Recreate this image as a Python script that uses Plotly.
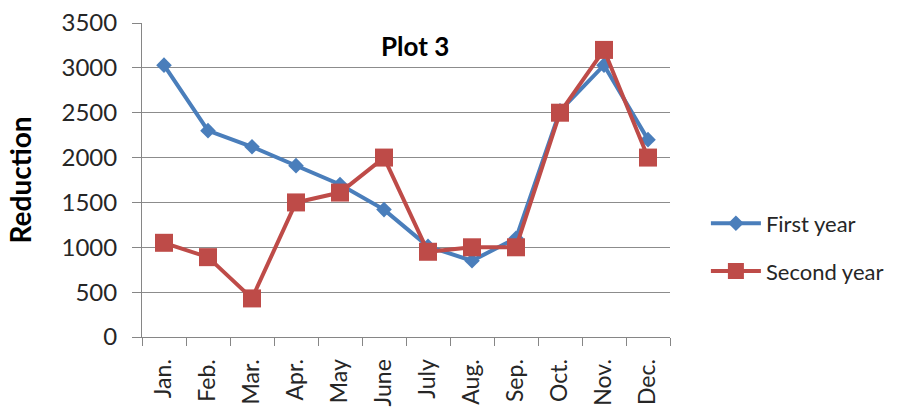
import plotly.graph_objects as go

months = ["Jan.", "Feb.", "Mar.", "Apr.", "May", "June", "July", "Aug.", "Sep.", "Oct.", "Nov.", "Dec."]
first_year = [3030, 2300, 2120, 1910, 1700, 1420, 1010, 850, 1100, 2520, 3030, 2200]
second_year = [1050, 890, 430, 1500, 1610, 2000, 950, 1000, 1000, 2500, 3200, 2000]

BLUE = "#4A7EBB"
RED = "#BE4B48"
FONT = "Lato, 'Open Sans', sans-serif"

fig = go.Figure()
fig.add_trace(go.Scatter(
    x=months, y=first_year, name="First year", mode="lines+markers",
    legendgroup="a",
    line=dict(color=BLUE, width=4),
    marker=dict(symbol="diamond", size=12, color=BLUE),
))
fig.add_trace(go.Scatter(
    x=months, y=second_year, name="Second year", mode="lines+markers",
    legendgroup="b",
    line=dict(color=RED, width=4),
    marker=dict(symbol="square", size=18, color=RED),
))

fig.update_layout(
    width=905, height=412,
    margin=dict(l=142, r=235, t=23, b=75),
    paper_bgcolor="white", plot_bgcolor="white",
    font=dict(family=FONT, size=22, color="#262626"),
    showlegend=True,
    legend=dict(
        x=1.068, y=0.285, xanchor="left", yanchor="middle",
        font=dict(size=22, color="#262626"),
        itemwidth=50, tracegroupgap=16,
        bgcolor="rgba(0,0,0,0)",
    ),
    annotations=[
        dict(text="<b>Plot 3</b>", x=0.517, y=0.926, xref="paper", yref="paper",
             showarrow=False, font=dict(size=26, color="#000000"),
             xanchor="center", yanchor="middle"),
        dict(text="<b>Reduction</b>", x=-0.232, y=0.50, xref="paper", yref="paper",
             showarrow=False, textangle=-90, font=dict(size=28, color="#000000"),
             xanchor="center", yanchor="middle"),
    ],
)

fig.update_xaxes(
    type="category", tickson="boundaries", automargin=False,
    range=[-0.5, len(months) - 0.5],
    ticks="outside", ticklen=8, tickcolor="#868686", tickwidth=1,
    showline=True, linecolor="#868686", linewidth=1,
    showgrid=False, tickangle=-90, ticklabelstandoff=12,
    tickfont=dict(size=23, color="#262626"),
)
fig.update_yaxes(
    range=[0, 3500], dtick=500, tick0=0, automargin=False,
    ticks="outside", ticklen=9, tickcolor="#868686", tickwidth=1,
    showline=True, linecolor="#868686", linewidth=1,
    showgrid=True, gridcolor="#8C8C8C", gridwidth=1,
    zeroline=False, ticklabelstandoff=10,
    tickfont=dict(size=24, color="#262626"),
)

fig.write_html("out.html")
